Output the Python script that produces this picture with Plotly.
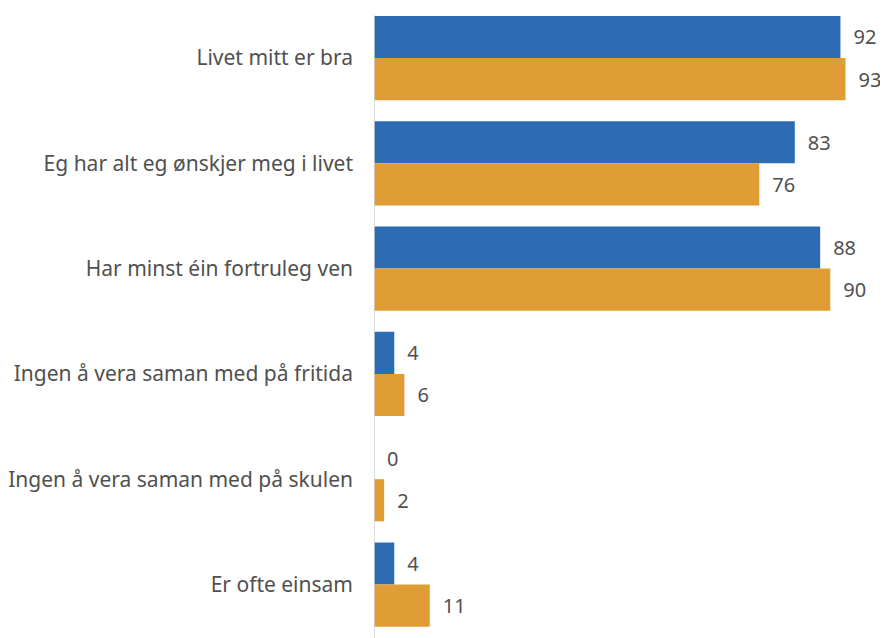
import plotly.graph_objects as go

# Categories and values (percent)
categories = [
    "Livet mitt er bra",
    "Eg har alt eg ønskjer meg i livet",
    "Har minst éin fortruleg ven",
    "Ingen å vera saman med på fritida",
    "Ingen å vera saman med på skulen",
    "Er ofte einsam",
]
series_blue = [92, 83, 88, 4, 0, 4]
series_orange = [93, 76, 90, 6, 2, 11]

blue = "#2c6cb2"
orange = "#e09c35"
text_col = "#505050"

fig = go.Figure()
for vals, col in [(series_blue, blue), (series_orange, orange)]:
    fig.add_trace(go.Bar(
        y=categories, x=vals, orientation="h",
        marker=dict(color=col, line=dict(width=0)),
        text=vals, texttemplate="\u2002%{x}", textposition="outside",
        textfont=dict(family="Noto Sans", size=20, color=text_col),
        cliponaxis=False, showlegend=False,
    ))

# the page body adds an 8px margin, so the figure is 8px smaller
fig.update_layout(
    width=880, height=630,
    margin=dict(l=363, r=7, t=0, b=0),
    barmode="group", bargap=0.2, bargroupgap=0,
    plot_bgcolor="white", paper_bgcolor="white",
    font=dict(family="Noto Sans", size=21, color=text_col),
    xaxis=dict(range=[0, 100], showgrid=False, zeroline=False,
               showticklabels=False, showline=False),
    yaxis=dict(range=[5.508, -0.475], showgrid=False, ticks="",
               showline=False, ticklabelstandoff=20,
               tickfont=dict(family="Noto Sans", size=21, color=text_col)),
    shapes=[dict(type="line", xref="x", yref="paper", x0=0, x1=0,
                 y0=0, y1=0.989, line=dict(color="#d0d0d0", width=1.5))],
)

fig.write_html("out.html")
